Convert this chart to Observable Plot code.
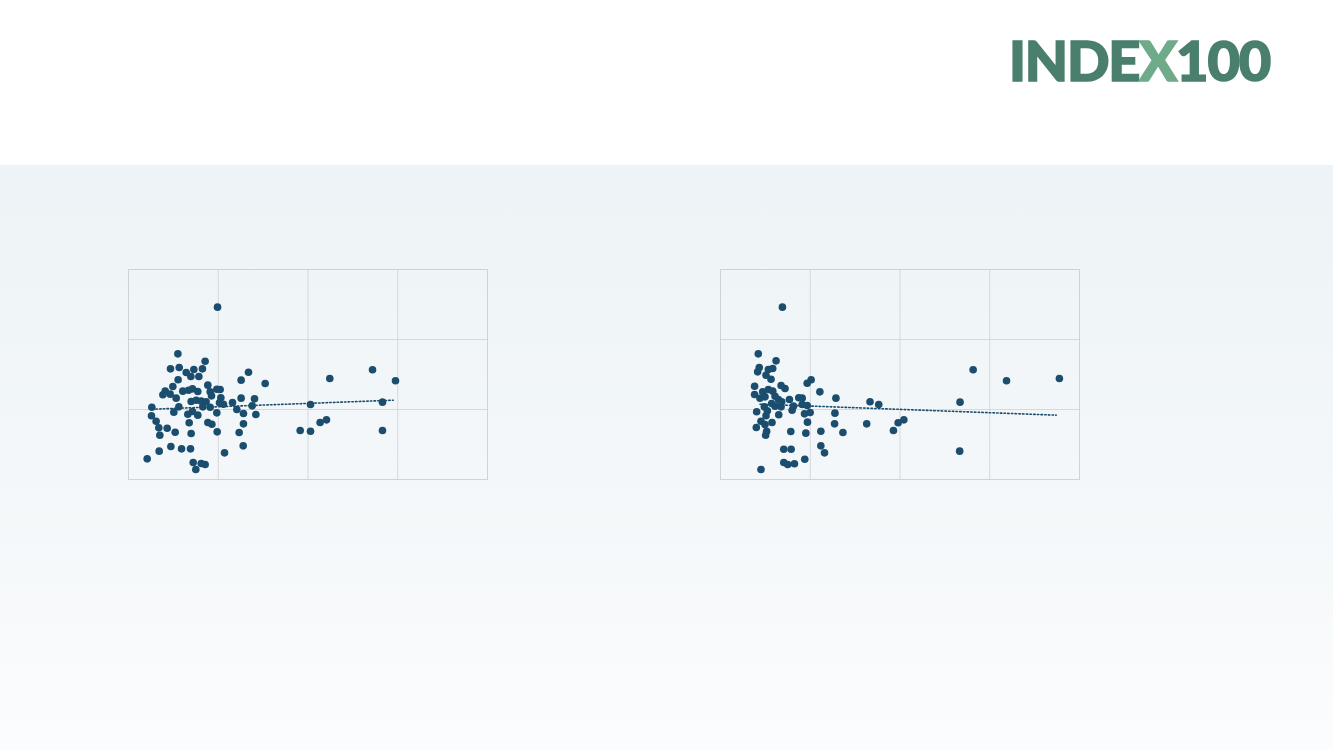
<!DOCTYPE html>
<html>
<head>
<meta charset="utf-8">
<script src="https://cdn.jsdelivr.net/npm/d3@7"></script>
<script src="https://cdn.jsdelivr.net/npm/@observablehq/plot@0.6"></script>
<style>
  html, body { margin: 0; padding: 0; }
  body { width: 1333px; height: 750px; position: relative; overflow: hidden; background: #ffffff; font-family: Lato, "Open Sans", sans-serif; }
  #band { position: absolute; left: 0; top: 165px; width: 1333px; height: 585px;
          background: linear-gradient(to bottom, #edf3f6 0%, #f3f7f9 50%, #fbfcfd 100%); }
  #logo { position: absolute; left: 1009px; top: 32px; font-family: Lato, sans-serif; font-weight: 900;
          font-size: 56px; color: #4a7f6e; letter-spacing: -1.2px; line-height: 1;
          -webkit-text-stroke: 1.6px #4a7f6e; }
  #logo .x { color: #6fab8a; -webkit-text-stroke: 1.6px #6fab8a; }
  .chart { position: absolute; }
</style>
</head>
<body>
<div id="band"></div>
<div id="logo">INDE<span class="x">X</span>100</div>
<div id="left" class="chart"></div>
<div id="right" class="chart"></div>
<script>
// Left scatter: x values and y values
const leftX = [0.992,0.550,0.854,0.468,0.565,0.824,0.643,0.728,0.695,0.784,0.553,1.337,1.255,1.523,0.884,0.494,0.605,0.669,0.713,0.772,0.984,1.021,0.409,0.383,0.464,0.531,0.910,0.925,0.698,0.754,0.810,0.865,1.029,1.014,1.159,1.255,1.404,1.378,0.260,0.561,0.828,0.910,1.058,1.207,0.505,0.661,0.713,0.772,0.984,1.281,1.419,0.256,0.308,0.338,0.431,0.349,0.520,0.676,0.884,0.929,0.698,0.988,1.233,1.281,1.278,1.070,0.342,0.472,0.591,0.691,0.208,0.721,0.810,0.854,0.750,2.028,1.913,2.028,2.135,2.206,2.243,2.719,2.975,2.830,2.830];
const leftY = [2.462,1.795,1.690,1.581,1.600,1.581,1.529,1.571,1.471,1.471,1.424,1.533,1.419,1.371,1.348,1.329,1.262,1.276,1.295,1.257,1.290,1.286,1.262,1.210,1.219,1.162,1.252,1.195,1.114,1.133,1.119,1.110,1.167,1.095,1.100,1.162,1.152,1.052,1.033,1.038,1.038,1.033,1.076,1.000,0.962,0.933,0.971,0.919,0.952,0.943,0.929,0.910,0.833,0.738,0.733,0.633,0.676,0.810,0.814,0.790,0.657,0.681,0.671,0.795,0.481,0.381,0.405,0.471,0.438,0.438,0.295,0.243,0.229,0.214,0.143,1.071,0.700,0.690,0.814,0.852,1.443,1.567,1.410,1.105,0.700];
// Left trend line endpoints
const leftTrendX = [0.264, 2.95];
const leftTrendY = [1.004, 1.133];

// Right scatter: x values and y values
const rightX = [0.690,0.421,0.619,0.432,0.414,0.533,0.582,0.507,0.563,0.380,0.675,0.719,0.966,1.010,1.107,0.380,0.470,0.533,0.582,0.496,0.608,0.645,0.768,0.872,0.910,1.286,0.488,0.608,0.675,0.813,0.798,0.910,0.966,0.403,0.522,0.507,0.649,0.936,0.999,1.275,0.451,0.574,0.496,0.969,1.271,0.399,0.514,0.503,0.783,0.951,1.118,1.364,1.118,1.159,0.705,0.787,0.939,0.705,0.749,0.824,0.451,1.666,1.763,1.629,1.927,1.979,2.043,2.669,2.665,2.815,3.187,3.776,0.570,0.682,0.440];
const rightY = [2.462,1.795,1.695,1.600,1.538,1.571,1.586,1.490,1.433,1.333,1.343,1.300,1.376,1.424,1.252,1.214,1.252,1.286,1.262,1.181,1.190,1.143,1.143,1.167,1.162,1.162,1.038,1.048,1.038,1.048,0.990,1.071,1.057,0.967,0.981,0.910,0.924,0.938,0.957,0.948,0.833,0.814,0.786,0.819,0.795,0.743,0.690,0.633,0.686,0.662,0.690,0.671,0.481,0.381,0.433,0.433,0.290,0.243,0.214,0.224,0.143,1.110,1.071,0.795,0.700,0.810,0.852,1.105,0.405,1.567,1.410,1.443,1.086,1.110,1.160];
// Right trend line endpoints
const rightTrendX = [0.44, 3.74];
const rightTrendY = [1.076, 0.919];

// Axis domains and grid ticks (axes have no labels in the reference)
const xDomain = [0, 4];
const yDomain = [0, 3];
const xGridTicks = [1, 2, 3];
const yGridTicks = [1, 2];

const dotColor = "#1b4d6e";
const gridColor = "#d5d9dd";

function scatter(xs, ys, tx, ty) {
  const data = xs.map((x, i) => ({x, y: ys[i]}));
  const trend = tx.map((x, i) => ({x, y: ty[i]}));
  return Plot.plot({
    width: 379,
    height: 230,
    marginLeft: 10, marginRight: 10, marginTop: 10, marginBottom: 10,
    style: {background: "transparent", overflow: "visible"},
    x: {domain: xDomain, axis: null},
    y: {domain: yDomain, axis: null},
    marks: [
      Plot.gridX(xGridTicks, {stroke: gridColor, strokeOpacity: 1}),
      Plot.gridY(yGridTicks, {stroke: gridColor, strokeOpacity: 1}),
      Plot.frame({stroke: "#cfd3d7"}),
      Plot.dot(data, {x: "x", y: "y", r: 3.8, fill: dotColor, stroke: "none"}),
      Plot.line(trend, {x: "x", y: "y", stroke: dotColor, strokeWidth: 1.6, strokeDasharray: "1.5,2.2"})
    ]
  });
}

const l = document.getElementById("left");
l.style.left = "118px"; l.style.top = "259px";
l.appendChild(scatter(leftX, leftY, leftTrendX, leftTrendY));
const r = document.getElementById("right");
r.style.left = "710px"; r.style.top = "259px";
r.appendChild(scatter(rightX, rightY, rightTrendX, rightTrendY));
</script>
</body>
</html>
